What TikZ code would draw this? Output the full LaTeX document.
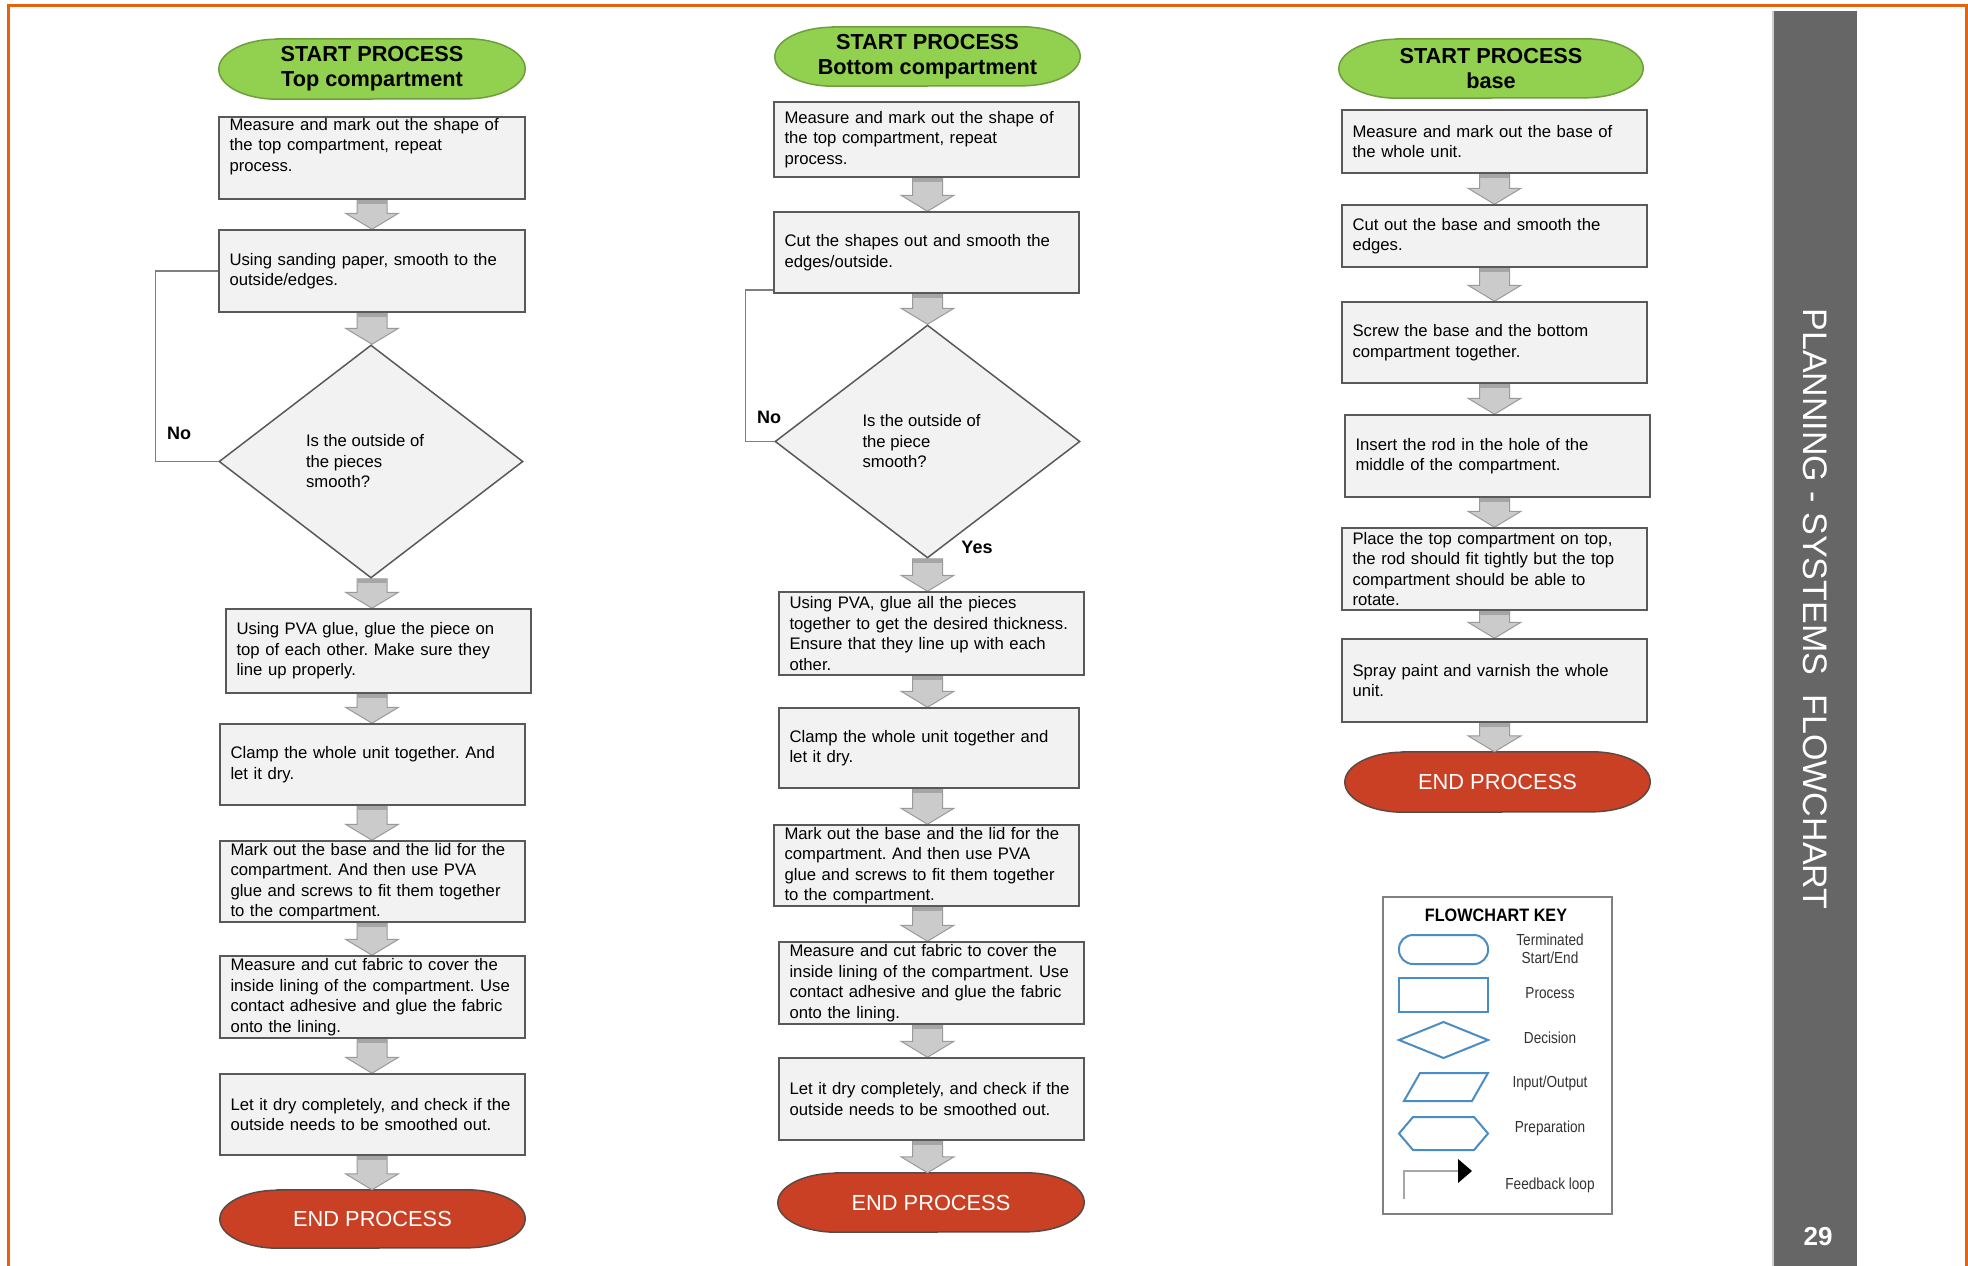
\documentclass[tikz,border=0pt]{standalone}
\usepackage{fontspec}
\setmainfont{Liberation Sans}
\usetikzlibrary{shapes.geometric,calc}
\pgfdeclarelayer{background}
\pgfsetlayers{background,main}
\frenchspacing
\definecolor{frameorange}{HTML}{E8610F}
\definecolor{boxfill}{HTML}{F2F2F2}
\definecolor{boxline}{HTML}{595959}
\definecolor{startgreen}{HTML}{92D050}
\definecolor{startline}{HTML}{6E9E3E}
\definecolor{endred}{HTML}{C94024}
\definecolor{endline}{HTML}{5A4A45}
\definecolor{arrowfill}{HTML}{CBCBCB}
\definecolor{arrowline}{HTML}{9A9A9A}
\definecolor{arrowdark}{HTML}{A6A6A6}
\definecolor{sidegray}{HTML}{666666}
\definecolor{keyblue}{HTML}{4A8CC4}
\definecolor{fbgray}{HTML}{7F7F7F}
\definecolor{keytext}{HTML}{333333}
\definecolor{keyframe}{HTML}{808080}
\newcommand\boxfont{\fontsize{16.7}{20.5}\selectfont\hyphenpenalty=10000\frenchspacing}
\newcommand\startfont{\bfseries\fontsize{21.7}{25}\selectfont}
\newcommand\stopfont{\fontsize{21.8}{25}\selectfont}
\newcommand\keyfont{\fontsize{16}{18}\selectfont}
\newcommand\termshape[4]{%
  \begin{pgfonlayer}{background}
  \draw[line width=1.5pt, draw=#3, fill=#2]
    ($(#1.north west)+(58pt,0pt)$) -- ($(#1.north east)+(-58pt,0pt)$)
    arc[start angle=90, end angle=-90, x radius=58pt, y radius=#4pt]
    -- ($(#1.south west)+(58pt,0pt)$)
    arc[start angle=270, end angle=90, x radius=58pt, y radius=#4pt] -- cycle;
  \end{pgfonlayer}}
\newcommand\blockarrow[3]{%
  \begin{pgfonlayer}{background}
  \draw[barrow] let \p1=(#1.south), \p2=(#2.north), \p3=(#3) in
    (\x3-15pt,\y1) -- (\x3+15pt,\y1) -- (\x3+15pt,\y2+16pt) -- (\x3+26.5pt,\y2+16pt)
    -- (\x3,\y2) -- (\x3-26.5pt,\y2+16pt) -- (\x3-15pt,\y2+16pt) -- cycle;
  \fill[arrowdark] let \p1=(#1.south), \p3=(#3) in
    (\x3-14.5pt,\y1) rectangle (\x3+14.5pt,\y1-4pt);
  \end{pgfonlayer}}
\tikzset{
  proc/.style={rectangle, draw=boxline, fill=boxfill, line width=1.5pt,
    inner xsep=10.5pt, inner ysep=0pt, align=left, font=\boxfont, text=black,
    text width=284pt, minimum height=82pt},
  dec/.style={diamond, draw=boxline, fill=boxfill, line width=1.5pt,
    inner sep=0pt, align=left, font=\boxfont, text=black,
    minimum width=305pt, minimum height=233pt},
  term/.style={rectangle, inner sep=0pt, align=center},
  barrow/.style={draw=arrowline, fill=arrowfill, line width=1pt},
  fb/.style={draw=fbgray, line width=1.5pt},
  lbl/.style={font=\bfseries\fontsize{18}{20}\selectfont, text=black},
  keyshape/.style={draw=keyblue, line width=2pt},
  keytxt/.style={font=\keyfont, text=keytext, align=center, inner sep=0pt},
}
\begin{document}
\begin{tikzpicture}[x=1pt,y=1pt]
\useasboundingbox (0,0) rectangle (1968,-1266);
\begin{pgfonlayer}{background}
\fill[white] (0,0) rectangle (1968,-1266);
\end{pgfonlayer}

% ---------- frame and sidebar ----------
\draw[frameorange, line width=3pt] (8,-1266) -- (8,-5) -- (1966,-5) -- (1966,-1266);
\fill[sidegray] (1774,-11) rectangle (1857,-1266);
\draw[white!80!black, line width=2pt] (1773,-11) -- (1773,-1266);
\node[rotate=-90, text=white, font=\fontsize{34}{40}\selectfont, inner sep=0pt] (title) at (1815,-609)
  {PLANNING - SYSTEMS\hspace{0.3em} FLOWCHART};
\node[text=white, font=\bfseries\fontsize{26}{30}\selectfont, inner sep=0pt] (pg) at (1818,-1237) {29};

% ---------- left column ----------
\node[term, minimum width=306pt, minimum height=60pt, font=\startfont] (s1) at (372,-69)
  {START PROCESS\\Top compartment};
\termshape{s1}{startgreen}{startline}{30}
\node[proc, text width=285pt] (L1) at (372,-158)
  {Measure and mark out the shape of\\the top compartment, repeat\\process.\\\strut};
\node[proc, text width=285pt] (L2) at (372,-271)
  {Using sanding paper, smooth to the\\outside/edges.};
\node[dec, minimum width=304pt] (L3) at (371,-461.5)
  {Is the outside of\hspace*{12pt}\\the pieces\\smooth?};
\node[proc, minimum height=84pt] (L4) at (378.5,-651)
  {Using PVA glue, glue the piece on\\top of each other. Make sure they\\line up properly.};
\node[proc, minimum height=81pt] (L5) at (372.5,-764.5)
  {Clamp the whole unit together. And\\let it dry.};
\node[proc, minimum height=81pt] (L6) at (372.5,-881.5)
  {Mark out the base and the lid for the\\compartment. And then use PVA\\glue and screws to fit them together\\to the compartment.};
\node[proc] (L7) at (372.5,-997)
  {Measure and cut fabric to cover the\\inside lining of the compartment. Use\\contact adhesive and glue the fabric\\onto the lining.};
\node[proc, minimum height=81pt] (L8) at (372.5,-1114.5)
  {Let it dry completely, and check if the\\outside needs to be smoothed out.};
\node[term, minimum width=305pt, minimum height=58pt, font=\stopfont, text=white] (e1) at (372.5,-1219)
  {END PROCESS};
\termshape{e1}{endred}{endline}{29}
\blockarrow{L1}{L2}{s1}
\blockarrow{L2}{L3}{s1}
\blockarrow{L3}{L4}{s1}
\blockarrow{L4}{L5}{s1}
\blockarrow{L5}{L6}{s1}
\blockarrow{L6}{L7}{s1}
\blockarrow{L7}{L8}{s1}
\blockarrow{L8}{e1}{s1}
\draw[fb] (L3.west) -- ++(-63pt,0pt) |- (L2.west);
\node[lbl] (noL) at (179,-433) {No};

% ---------- middle column ----------
\node[term, minimum width=305pt, minimum height=59pt, font=\startfont] (s2) at (927.5,-56.5)
  {START PROCESS\\Bottom compartment};
\termshape{s2}{startgreen}{startline}{29.5}
\node[proc, minimum height=75pt] (M1) at (926.5,-139.5)
  {Measure and mark out the shape of\\the top compartment, repeat\\process.};
\node[proc, minimum height=81pt] (M2) at (926.5,-252.5)
  {Cut the shapes out and smooth the\\edges/outside.};
\node[dec] (M3) at (927.5,-441.5)
  {Is the outside of\hspace*{12pt}\\the piece\\smooth?};
\node[proc, minimum height=83pt] (M4) at (931.5,-633.5)
  {Using PVA, glue all the pieces\\together to get the desired thickness.\\Ensure that they line up with each\\other.};
\node[proc, text width=279pt, minimum height=80pt] (M5) at (929,-748)
  {Clamp the whole unit together and\\let it dry.};
\node[proc, minimum height=81pt] (M6) at (926.5,-865.5)
  {Mark out the base and the lid for the\\compartment. And then use PVA\\glue and screws to fit them together\\to the compartment.};
\node[proc] (M7) at (931.5,-983)
  {Measure and cut fabric to cover the\\inside lining of the compartment. Use\\contact adhesive and glue the fabric\\onto the lining.};
\node[proc] (M8) at (931.5,-1099)
  {Let it dry completely, and check if the\\outside needs to be smoothed out.};
\node[term, minimum width=306pt, minimum height=59pt, font=\stopfont, text=white] (e2) at (931,-1202.5)
  {END PROCESS};
\termshape{e2}{endred}{endline}{29.5}
\blockarrow{M1}{M2}{s2}
\blockarrow{M2}{M3}{s2}
\blockarrow{M3}{M4}{s2}
\blockarrow{M4}{M5}{s2}
\blockarrow{M5}{M6}{s2}
\blockarrow{M6}{M7}{s2}
\blockarrow{M7}{M8}{s2}
\blockarrow{M8}{e2}{s2}
\draw[fb] (M3.west) -- ++(-29pt,0pt) |- ($(M2.south west)+(0pt,4pt)$);
\node[lbl] (noM) at (769,-417) {No};
\node[lbl] (yesM) at (977,-547) {Yes};

% ---------- right column ----------
\node[term, minimum width=304pt, minimum height=59pt, font=\startfont] (s3) at (1491,-68.5)
  {START PROCESS\\base};
\termshape{s3}{startgreen}{startline}{29.5}
\node[proc, minimum height=63pt] (R1) at (1494.5,-141.5)
  {Measure and mark out the base of\\the whole unit.};
\node[proc, minimum height=62pt] (R2) at (1494.5,-236)
  {Cut out the base and smooth the\\edges.};
\node[proc, minimum height=81pt] (R3) at (1494.5,-342.5)
  {Screw the base and the bottom\\compartment together.};
\node[proc] (R4) at (1497.5,-456)
  {Insert the rod in the hole of the\\middle of the compartment.};
\node[proc] (R5) at (1494.5,-569)
  {Place the top compartment on top,\\the rod should fit tightly but the top\\compartment should be able to\\rotate.};
\node[proc, minimum height=83pt] (R6) at (1494.5,-680.5)
  {Spray paint and varnish the whole\\unit.};
\node[term, minimum width=305pt, minimum height=60pt, font=\stopfont, text=white] (e3) at (1497.5,-782)
  {END PROCESS};
\termshape{e3}{endred}{endline}{30}
\blockarrow{R1}{R2}{R1}
\blockarrow{R2}{R3}{R1}
\blockarrow{R3}{R4}{R1}
\blockarrow{R4}{R5}{R1}
\blockarrow{R5}{R6}{R1}
\blockarrow{R6}{e3}{R1}

% ---------- flowchart key ----------
\draw[keyframe, fill=white, line width=1.5pt] (1383,-897) rectangle (1612,-1214);
\node[font=\bfseries\fontsize{18}{20}\selectfont, text=black, inner sep=0pt] (keyt) at (1496,-915)
  {\scalebox{0.9}[1]{FLOWCHART KEY}};
\draw[keyshape, rounded corners=14pt] (1399,-935) rectangle (1488,-964);
\draw[keyshape] (1399,-978) rectangle (1488,-1012);
\draw[keyshape] (1399,-1040) -- (1443.5,-1022) -- (1488,-1040) -- (1443.5,-1058) -- cycle;
\draw[keyshape] (1404,-1101) -- (1420,-1073) -- (1488,-1073) -- (1472,-1101) -- cycle;
\draw[keyshape] (1399,-1133.5) -- (1413,-1117) -- (1474,-1117) -- (1488,-1133.5)
  -- (1474,-1150) -- (1413,-1150) -- cycle;
\draw[gray!70, line width=1.5pt] (1404,-1199) |- (1459,-1171);
\fill[black] (1458,-1159) -- (1472,-1171) -- (1458,-1183) -- cycle;
\node[keytxt] (k1) at (1550,-949) {\scalebox{0.85}[1]{Terminated}\\\scalebox{0.85}[1]{Start/End}};
\node[keytxt] (k2) at (1550,-993) {\scalebox{0.85}[1]{Process}};
\node[keytxt] (k3) at (1550,-1038) {\scalebox{0.85}[1]{Decision}};
\node[keytxt] (k4) at (1550,-1083) {\scalebox{0.85}[1]{Input/Output}};
\node[keytxt] (k5) at (1550,-1128) {\scalebox{0.85}[1]{Preparation}};
\node[keytxt] (k6) at (1550,-1185) {\scalebox{0.85}[1]{Feedback loop}};
\end{tikzpicture}
\end{document}
